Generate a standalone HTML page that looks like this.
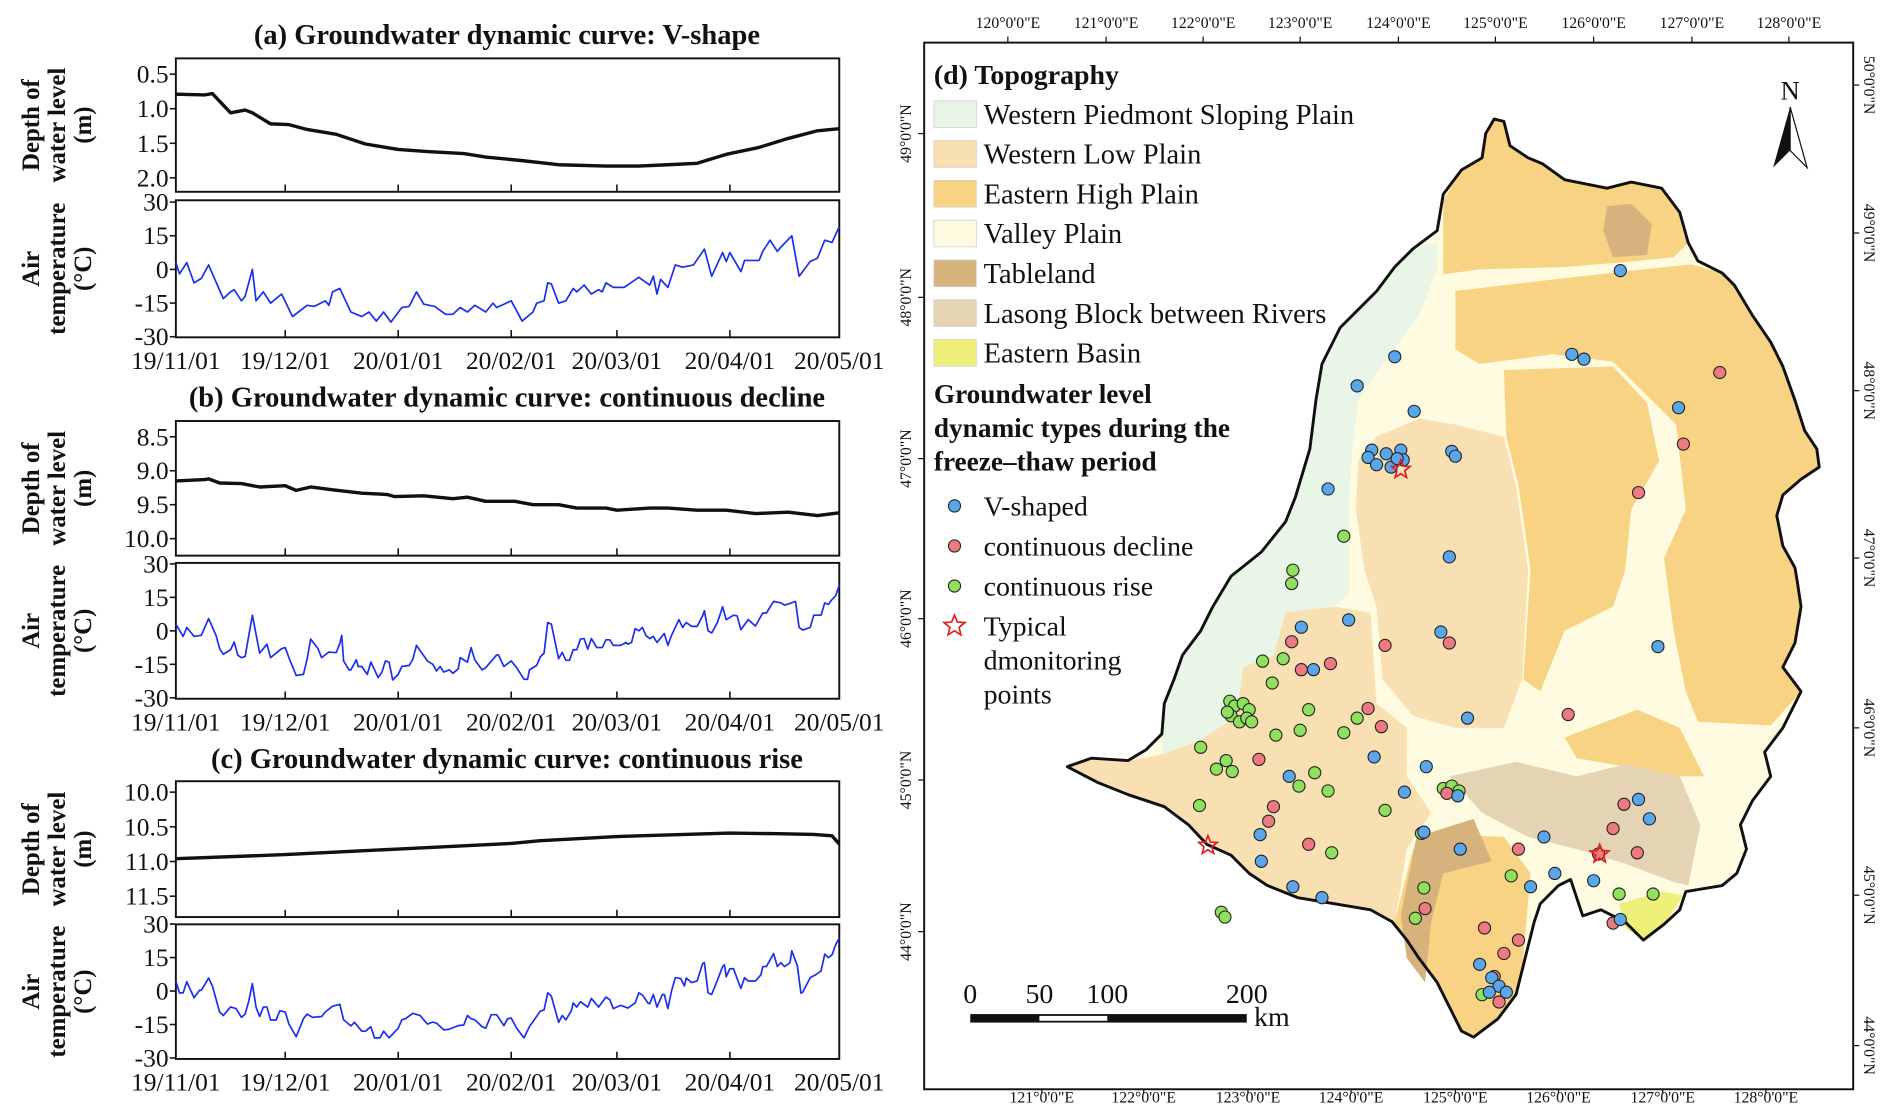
<!DOCTYPE html>
<html><head><meta charset="utf-8">
<style>
html,body{margin:0;padding:0;background:#fff;}
svg{display:block;font-family:"Liberation Serif",serif;}
.t{fill:#111;}
.b{font-weight:bold;}
</style></head>
<body>
<svg id="fig" width="1892" height="1104" viewBox="0 0 1560 910" xmlns="http://www.w3.org/2000/svg">
<g id="left"></g>
<g id="map"></g>
</svg>
<script>
// ---------- chart data ----------
const dateLabels = ["19/11/01","19/12/01","20/01/01","20/02/01","20/03/01","20/04/01","20/05/01"];
const dateTickDays = [0,30,61,92,121,152,182];

const aDepthDays = [0,8,10,15,19,21,26,31,36,44,52,61,69,79,85,95,105,118,127,135,143,151,160,168,176,182];
const aDepthVals = [0.79,0.8,0.78,1.06,1.02,1.06,1.22,1.23,1.3,1.37,1.51,1.59,1.62,1.65,1.7,1.75,1.81,1.83,1.83,1.81,1.79,1.66,1.56,1.43,1.32,1.29];
const aTempDays = [0,1,3,5,7,9,13,15,16,18,19,21,22,24,26,29,32,36,38,41,42,43,45,48,51,53,55,57,59,62,64,66,68,71,74,76,78,80,82,85,87,88,90,92,95,98,99,101,102,103,105,107,109,110,112,114,116,117,118,120,123,127,130,131,132,133,135,137,139,142,145,147,150,151,152,155,156,160,161,163,165,166,169,171,174,176,178,180,182];
const aTempVals = [3,-2,3,-6,-4,2,-13,-10,-9,-14,-12,0,-14,-10,-15,-11,-21,-16,-16.5,-14,-16,-10,-8.5,-19,-21,-19,-23,-19,-23.5,-17,-16.5,-10,-15.5,-16.5,-20,-20,-17,-19,-16,-19,-15,-17,-15.5,-14,-23,-19,-15,-14,-6,-6.5,-15,-14,-8.5,-10,-7,-11,-9,-10,-6,-8,-8,-3.5,-7,-3,-11,-4.5,-8,2,1,2,9,-3,7.5,3.5,7.5,-1,4,4,8,13,8,10,15,-3,3.5,5,13,12,19];

const bDepthDays = [0,8,9,12,18,23,30,33,37,43,51,58,60,68,76,80,85,93,98,105,110,118,121,130,135,143,151,159,168,176,182];
const bDepthVals = [9.15,9.13,9.12,9.18,9.19,9.24,9.22,9.29,9.24,9.28,9.33,9.35,9.38,9.37,9.41,9.39,9.45,9.45,9.5,9.5,9.55,9.55,9.58,9.55,9.55,9.58,9.58,9.63,9.61,9.66,9.62];
const bTempDays = [0,2,3,5,7,9,11,12,13,15,16,17,18,19,21,23,25,26,29,30,31,33,35,36,37,39,40,42,44,45,45.5,46,47.5,48,49.5,50,51,52.5,53.5,54,55.5,56.5,57.5,58.5,59.5,61,62,64,65,66,67.5,69,70.5,71.5,72.5,73.5,75,76,77.5,78,80,81,82,84,85,88,88.5,90,92,93.5,95.5,96.5,97,99,100,101,102,103,105,106,107,108,109,110,111,112,113,114,115.5,117,118,119,120,122,123.5,124,125,126,127,128,129,130,131,132,134,135,136,138,139,140,141.5,143,144.5,145,146,147,148.5,149.5,150,151,153,154,155,157,159,161,162,164,166,167,168,170,171,172,174,175,177,178,179,180,181,182];
const bTempVals = [3,-2.5,1.5,-2.5,-2,5.5,-2,-8,-10.5,-8.5,-5,-11,-12,-11.5,7,-10,-6,-12,-8,-7.5,-12,-20,-19.5,-12.7,-3.7,-8,-12,-9.5,-9.8,-5.7,-2,-13.5,-17.5,-17.5,-13,-16,-16,-19.5,-14,-15.7,-21,-18.7,-13.5,-14,-22,-19.5,-16,-15.5,-12.7,-6.5,-10,-13.5,-15,-18,-16,-18.5,-17.5,-19,-17,-12,-14,-7.5,-13,-17.5,-16.5,-10.8,-10.8,-16,-13.5,-16.5,-21.7,-21.7,-17.5,-15.5,-11.7,-10,3.7,3,-12.5,-9.7,-13.2,-13.2,-8.5,-8.5,-3.7,-3.5,-8.2,-3.5,-7.5,-7.5,-4,-4,-6.5,-6.5,-5.2,-6,-5.2,1,0,1.5,-2.2,-3.5,-2.5,-5.2,-1.2,-6.5,-2,5,1.5,3.7,2,2,6.7,9,0,-1,3.5,8.2,10.8,5,7,6.7,0.5,5,2.2,8,8,13.2,12.5,11.5,12,13.2,1.5,0.3,1.5,7,7,12.5,11.8,14,15.7,20.5];

const cDepthDays = [0,30,61,92,100,121,152,165,175,180,182];
const cDepthVals = [10.96,10.9,10.82,10.74,10.7,10.64,10.59,10.6,10.61,10.63,10.75];
const cTempDays = [0,1,2,3,5,6.5,7,9,10,12,13,15,16.5,18,19,20,21,22,23,24,25,26,27.5,28.5,30,31,33,35,36,37.5,40,41,43,45,46,48,49,51,52,53.5,54.5,56,57,58.5,61,62,63,65,67,69,70.5,71.5,73.5,75,77.5,79,80,81,82,84,85,86.5,88,90,91,92,93.5,95.5,97,100,101,102,103,105,106,107,108.5,109,110,111,113,114,116,118,119,120,122,124,126,127,128,129.5,130,131,132,133.5,134,135,136,137,138.5,139.5,140,141.5,143,144.5,145,146,147,148.5,150,150.5,151,152,153,154.5,155,156,157,159,160.5,161,162,164,165,166,167,168.5,169,170.5,171.5,172,174,175.5,177,178,179,180,181,182];
const cTempVals = [4.5,-0.8,-0.8,4.2,-3,0.3,0.3,5.8,2.3,-9.4,-11,-7.1,-7.8,-11.8,-10.3,-4.5,3.3,-7.2,-11.4,-7.2,-7.2,-13,-13,-8.8,-9.4,-14.8,-20.5,-12.4,-10.3,-11.8,-11.4,-9.4,-6.8,-6,-12.9,-15.6,-14,-18,-18,-16,-21,-21,-18,-21,-16.7,-12.9,-12.4,-10,-11,-14.8,-13.9,-14.4,-17.4,-17.1,-15.5,-15.2,-11,-12.4,-12.9,-16,-16.7,-10.6,-10.6,-15.5,-12.4,-12.1,-16.7,-21,-16,-9,-8.5,-0.8,-2.3,-14,-11,-12.9,-8.8,-5.3,-7.2,-4.8,-7.2,-3.3,-7.2,-2.7,-3.8,-7.9,-6.4,-7.6,-5.3,-0.8,-1.8,-5.3,-5.7,-1.5,-7.2,-1.5,-1.5,-7.9,0,6,5.6,2.3,5.8,3.8,4.5,12.3,12.7,-0.8,-1.5,4.5,11,11.8,6.4,10,10,3.3,1.2,6,4.5,4.5,7.3,11,11,16.8,11,12.7,11,12.7,18,11.4,-1,-0.5,6,7.3,9,16.5,15,16.2,20.7,23.8];

const depthTicksA = [0.5,1.0,1.5,2.0];
const depthTicksB = [8.5,9.0,9.5,10.0];
const depthTicksC = [10.0,10.5,11.0,11.5];
const tempTicks = [30,15,0,-15,-30];

// ---------- map data ----------
const vShaped = [[1336,223],[1150,294],[1119,318],[1296,292],[1306,296],[1166,339],[1384,336],[1131,371],[1128,377],[1143,374],[1155,371],[1157,379],[1135,383],[1147,385],[1152,378],[1197,372],[1200,376],[1095,403],[1195,459],[1112,511],[1073,517],[1188,521],[1367,533],[1083,552],[1210,592],[1133,624],[1176,632],[1158,653],[1351,659],[1360,675],[1174,686],[1273,690],[1282,720],[1262,731],[1314,726],[1336,758],[1063,640],[1039,688],[1040,710],[1066,731],[1090,740],[1220,795],[1230,806],[1236,813],[1242,818],[1228,818],[1204,700],[1202,656]];
const decline = [[1418,307],[1388,366],[1351,406],[1142,532],[1195,530],[1065,529],[1073,552],[1097,547],[1128,584],[1139,599],[1038,626],[1293,589],[1050,665],[1046,677],[1079,696],[1193,654],[1339,663],[1330,683],[1350,703],[1252,700],[1175,749],[1224,765],[1252,775],[1240,786],[1232,805],[1236,826],[1330,761],[1318,704]];
const rise = [[1066,470],[1065,481],[1108,442],[1041,545],[1058,543],[1049,563],[1014,578],[1018,582],[1025,580],[1030,585],[1015,590],[1022,595],[1028,592],[1012,587],[1032,595],[990,616],[1003,634],[1016,636],[989,664],[1011,627],[1052,606],[1079,585],[1108,604],[1119,592],[1072,602],[1071,648],[1084,637],[1095,652],[1142,668],[1172,687],[1190,650],[1197,648],[1203,652],[1007,752],[1010,756],[1098,703],[1167,757],[1174,732],[1222,820],[1246,722],[1335,737],[1363,737]];
const typical = [[1155,387],[996,697],[1319,704]];

const NS = "http://www.w3.org/2000/svg";
function el(tag, attrs, parent){
  const e = document.createElementNS(NS, tag);
  for (const k in attrs) e.setAttribute(k, attrs[k]);
  if (parent) parent.appendChild(e);
  return e;
}
function txt(parent, x, y, s, cls, anchor, extra){
  const t = el("text", Object.assign({x:x, y:y, class:cls||"t", "text-anchor":anchor||"middle", "font-size":"21"}, extra||{}), parent);
  t.textContent = s;
  return t;
}

const L = document.getElementById("left");
const X0 = 145, X1 = 692;
const xScale = d => X0 + d * (X1 - X0) / 182;

function drawPanel(name, top, bot, yScale, ticks, tickFmt, days, vals, color, lw, title3, showDates){
  const g = el("g", {}, L);
  
  
  const fr = el("rect", {x:X0, y:top, width:X1-X0, height:bot-top, fill:"none", stroke:"#111", "stroke-width":1.6}, g);
  
  
  ticks.forEach(v => {
    const y = yScale(v);
    el("line", {x1:X0-5, x2:X0, y1:y, y2:y, stroke:"#111", "stroke-width":1.3}, g);
    const tl = txt(g, X0-6, y+7, tickFmt(v), "t", "end");
    
    
  });
  dateTickDays.forEach((d,i) => {
    const x = xScale(d);
    if (i>0 && i<dateTickDays.length-1) el("line", {x1:x, x2:x, y1:bot, y2:bot-6, stroke:"#111", "stroke-width":1.3}, g);
    if (showDates){
      const tl = txt(g, x, bot+26, dateLabels[i], "t", "middle");
      
      
    }
  });
  const pts = days.map((d,i) => xScale(d).toFixed(1) + "," + yScale(vals[i]).toFixed(1)).join(" ");
  const line = el("polyline", {points:pts, fill:"none", stroke:color, "stroke-width":lw, "stroke-linejoin":"round"}, g);
  
  
  const cy = (top+bot)/2;
  const at = el("g", {transform:"translate(0,"+cy+") rotate(-90)"}, g);
  
  
  title3.forEach((s,i) => txt(at, 0, 32 + i*21.5, s, "t b", "middle", {"font-size":"20.5"}));
}
const fmt1 = v => v.toFixed(1);
const fmt0 = v => String(v);
function panelTitle(y, s){
  const t = txt(L, 418, y, s, "t b", "middle", {"font-size":"23.5"});
  
  
}
const depthTitle = ["Depth of","water level","(m)"];
const tempTitle = ["Air","temperature","(\u00B0C)"];

panelTitle(36, "(a) Groundwater dynamic curve: V-shape");
drawPanel("depth-panel-a", 48, 158, v => 61 + (v-0.5)*57, depthTicksA, fmt1, aDepthDays, aDepthVals, "#111", 2.8, depthTitle, false);
drawPanel("temp-panel-a", 165, 278, v => 222 - v*1.85, tempTicks, fmt0, aTempDays, aTempVals, "#1a2ff0", 1.4, tempTitle, true);

panelTitle(335, "(b) Groundwater dynamic curve: continuous decline");
drawPanel("depth-panel-b", 347, 458, v => 360 + (v-8.5)*56, depthTicksB, fmt1, bDepthDays, bDepthVals, "#111", 2.8, depthTitle, false);
drawPanel("temp-panel-b", 464, 576, v => 520 - v*1.84, tempTicks, fmt0, bTempDays, bTempVals, "#1a2ff0", 1.4, tempTitle, true);

panelTitle(633, "(c) Groundwater dynamic curve: continuous rise");
drawPanel("depth-panel-c", 644, 756, v => 653 + (v-10)*57.2, depthTicksC, fmt1, cDepthDays, cDepthVals, "#111", 2.8, depthTitle, false);
drawPanel("temp-panel-c", 762, 873, v => 817 - v*1.84, tempTicks, fmt0, cTempDays, cTempVals, "#1a2ff0", 1.4, tempTitle, true);

// ---------- map ----------
const M = document.getElementById("map");
function poly(pts, fill, name, stroke, sw){
  const p = el("polygon", {points:pts, fill:fill, stroke:stroke||"none", "stroke-width":sw||0, "stroke-linejoin":"round"}, M);
  
  
  return p;
}
const frame = el("rect", {x:762, y:35, width:766, height:863, fill:"#fff", stroke:"#111", "stroke-width":1.6}, M);



const outline = "880,632 900,625 930,627 945,618 958,605 960,580 968,560 975,540 990,520 1000,500 1015,475 1040,455 1060,430 1068,410 1080,370 1085,330 1090,300 1105,270 1120,255 1135,240 1150,220 1165,205 1185,190 1190,160 1205,140 1222,130 1225,110 1232,98 1240,100 1245,120 1260,130 1272,135 1290,148 1325,155 1345,150 1370,155 1385,175 1392,200 1400,215 1420,225 1430,235 1445,260 1460,282 1470,302 1480,330 1488,355 1498,370 1500,385 1485,395 1470,408 1465,425 1470,450 1480,468 1482,480 1485,500 1480,530 1470,550 1485,570 1470,600 1455,620 1460,640 1445,660 1435,680 1440,700 1432,720 1420,730 1390,735 1385,750 1372,762 1355,775 1340,760 1320,750 1305,755 1300,740 1295,725 1285,730 1270,745 1265,760 1260,780 1255,800 1250,820 1235,840 1215,855 1205,850 1195,830 1185,810 1170,790 1160,775 1148,760 1130,750 1100,745 1070,740 1045,730 1030,720 1015,705 995,696 980,680 960,665 930,655 905,645";
poly(outline, "#fefbe0", "valley-plain-region");
poly("958,622 958,605 960,580 968,560 975,540 990,520 1000,500 1015,475 1040,455 1060,430 1068,410 1080,370 1085,330 1090,300 1105,270 1120,255 1135,240 1150,220 1165,205 1185,200 1185,222 1170,260 1140,300 1120,330 1115,370 1112,420 1112,490 1100,500 1060,505 1050,540 1025,550 1020,590 990,610", "#e9f5e6", "western-piedmont-region");
poly("880,632 900,625 930,627 958,622 990,610 1020,590 1025,550 1050,540 1060,505 1100,500 1130,505 1135,580 1160,600 1160,640 1180,670 1160,700 1150,760 1130,750 1100,745 1070,740 1045,730 1030,720 1015,705 995,696 980,680 960,665 930,655 905,645", "#f8e0b3", "western-low-plain-sw");
poly("1120,380 1135,360 1170,345 1200,350 1240,360 1250,400 1260,470 1255,560 1240,600 1200,600 1165,590 1140,560 1135,500 1125,470 1118,420", "#f8e0b3", "western-low-plain-central");
poly("1190,165 1205,140 1222,130 1225,110 1232,98 1240,100 1245,120 1260,130 1272,135 1290,148 1325,155 1345,150 1370,155 1385,175 1392,200 1380,212 1340,216 1290,220 1220,222 1190,226", "#f9d384", "eastern-high-plain-north");
poly("1200,238 1300,226 1395,218 1420,225 1430,235 1445,260 1460,282 1470,302 1480,330 1488,355 1498,370 1500,385 1485,395 1470,408 1465,425 1470,450 1480,468 1485,500 1480,530 1470,550 1485,570 1460,598 1400,595 1390,570 1380,520 1372,460 1390,420 1382,350 1360,328 1330,298 1280,292 1220,300 1200,288", "#f9d384", "eastern-high-plain-east");
poly("1240,305 1330,302 1358,332 1368,380 1345,420 1340,470 1330,500 1290,520 1270,570 1256,560 1262,470 1252,400 1242,360", "#f9d384", "eastern-high-plain-mid");
poly("1290,608 1350,585 1385,600 1405,640 1380,640 1340,632 1300,625", "#f9d384", "eastern-high-plain-se");
poly("1150,760 1165,700 1200,688 1240,690 1262,720 1255,800 1250,820 1235,840 1215,855 1205,850 1195,830 1185,810 1170,790 1160,775", "#f9d384", "eastern-high-plain-south");
poly("1155,755 1168,690 1215,675 1230,710 1190,720 1180,760 1175,810 1160,790", "#d6b27c", "tableland-south");
poly("1325,170 1345,168 1362,185 1358,210 1330,212 1322,190", "#d6b27c", "tableland-north");
poly("1195,640 1250,628 1300,640 1340,630 1385,640 1402,680 1392,730 1350,720 1300,700 1260,690 1222,670", "#e5d4b4", "lasong-block-region");
poly("1335,745 1370,735 1388,738 1372,762 1355,775 1340,765", "#eef07a", "eastern-basin-region");
[["1196,230 1300,220 1390,212 1392,218 1300,228 1198,240","river-north"],["1300,700 1340,712 1388,730 1388,736 1340,720 1298,706","river-south"]].forEach(r => poly(r[0], "#fefbe0", r[1]));
poly(outline, "none", "study-area-boundary", "#111", 2.4);

function dots(list, fill, name){
  list.forEach(p => {
    const c = el("circle", {cx:p[0], cy:p[1], r:5, fill:fill, stroke:"#222", "stroke-width":0.9}, M);
    
    
  });
}
dots(rise, "#8fe05c", "continuous-rise-point");
dots(decline, "#ec7a80", "continuous-decline-point");
dots(vShaped, "#5aa6ea", "v-shaped-point");
function starPts(cx, cy, R, r){
  const a = [];
  for (let i=0;i<10;i++){ const ang = -Math.PI/2 + i*Math.PI/5; const rr = i%2? r : R; a.push((cx+rr*Math.cos(ang)).toFixed(1)+","+(cy+rr*Math.sin(ang)).toFixed(1)); }
  return a.join(" ");
}
typical.forEach(p => {
  const s = el("polygon", {points:starPts(p[0],p[1],8,3.5), fill:"none", stroke:"#e02020", "stroke-width":1.4}, M);
  
  
});

// graticule labels
const topLon = [[831,120],[912,121],[992,122],[1072,123],[1153,124],[1233,125],[1314,126],[1395,127],[1475,128]];
topLon.forEach(a => { const t = txt(M, a[0], 23, a[1]+"\u00B00'0\"E", "t", "middle", {"font-size":"13"});   el("line",{x1:a[0],x2:a[0],y1:30,y2:35,stroke:"#111"},M); });
const botLon = [[859,121],[943,122],[1029,123],[1114,124],[1200,125],[1285,126],[1371,127],[1456,128]];
botLon.forEach(a => { const t = txt(M, a[0], 909, a[1]+"\u00B00'0\"E", "t", "middle", {"font-size":"13"});   el("line",{x1:a[0],x2:a[0],y1:898,y2:902,stroke:"#111"},M); });
const leftLat = [[110,49],[245,48],[378,47],[510,46],[643,45],[768,44]];
leftLat.forEach(a => { const t = txt(M, 0, 0, a[1]+"\u00B00'0\"N", "t", "middle", {"font-size":"13", transform:"translate(751,"+a[0]+") rotate(-90)"});   el("line",{x1:757,x2:762,y1:a[0],y2:a[0],stroke:"#111"},M); });
const rightLat = [[70,50],[192,49],[322,48],[460,47],[600,46],[738,45],[862,44]];
rightLat.forEach(a => { const t = txt(M, 0, 0, a[1]+"\u00B00'0\"N", "t", "middle", {"font-size":"13", transform:"translate(1537,"+a[0]+") rotate(90)"});   el("line",{x1:1528,x2:1533,y1:a[0],y2:a[0],stroke:"#111"},M); });

// legend
const lg = el("g", {}, M);


txt(lg, 770, 69, "(d) Topography", "t b", "start", {"font-size":"23"});
const legendLabels = ["Western Piedmont Sloping Plain","Western Low Plain","Eastern High Plain","Valley Plain","Tableland","Lasong Block between Rivers","Eastern Basin"];
const legendColors = ["#e9f5e6","#f8e0b3","#f9d384","#fefbe0","#d6b27c","#e5d4b4","#eef07a"];
legendLabels.forEach((s,i) => {
  const y = 94 + i*32.8;
  const r = el("rect", {x:770, y:y-11, width:35, height:22, fill:legendColors[i], stroke:"#ccc", "stroke-width":0.6}, lg);
  
  
  txt(lg, 811, y+8, s, "t", "start", {"font-size":"23.5"});
});
["Groundwater level","dynamic types during the","freeze\u2013thaw period"].forEach((s,i) => txt(lg, 770, 332 + i*28, s, "t b", "start", {"font-size":"22.5"}));
const ptLeg = [["V-shaped","#5aa6ea"],["continuous decline","#ec7a80"],["continuous rise","#8fe05c"]];
ptLeg.forEach((p,i) => {
  const y = 417 + i*33;
  const c = el("circle", {cx:787, cy:y, r:5, fill:p[1], stroke:"#222", "stroke-width":0.9}, lg);
  
  
  txt(lg, 811, y+8, p[0], "t", "start", {"font-size":"23"});
});
el("polygon", {points:starPts(787,516,9,4), fill:"none", stroke:"#e02020", "stroke-width":1.4}, lg);
["Typical","dmonitoring","points"].forEach((s,i) => txt(lg, 811, 524 + i*28, s, "t", "start", {"font-size":"23"}));

// north arrow
const na = el("g", {}, M);


txt(na, 1476, 82, "N", "t", "middle", {"font-size":"22"});
el("polygon", {points:"1476,88 1462,138 1476,124", fill:"#111"}, na);
el("polygon", {points:"1476,88 1490,138 1476,124", fill:"#fff", stroke:"#111", "stroke-width":1}, na);

// scale bar
const sb = el("g", {}, M);


[[800,"0"],[857,"50"],[913,"100"],[1028,"200"]].forEach(a => txt(sb, a[0], 827, a[1], "t", "middle", {"font-size":"23"}));
el("rect", {x:800, y:836, width:228, height:7, fill:"#111"}, sb);
el("rect", {x:857, y:837.5, width:56, height:4, fill:"#fff"}, sb);
txt(sb, 1034, 846, "km", "t", "start", {"font-size":"23"});
</script>
</body></html>
